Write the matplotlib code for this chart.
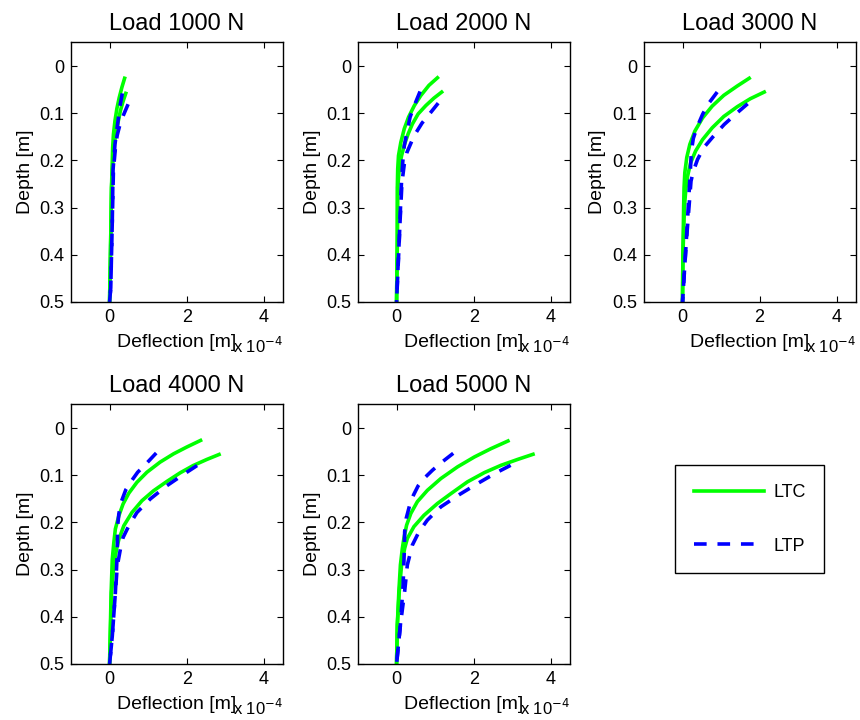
import matplotlib
matplotlib.use('Agg')
import matplotlib.pyplot as plt
from matplotlib.lines import Line2D

plt.rcParams['font.family'] = ['Liberation Sans', 'DejaVu Sans']

# Loads (N) and curves; deflection in units of 1e-4 m
loads = [1000, 2000, 3000, 4000, 5000]

ltc_upper_d = [
    [0.026, 0.045, 0.067, 0.09, 0.116, 0.145, 0.173, 0.258, 0.365, 0.5],
    [0.025, 0.041, 0.0625, 0.084, 0.1085, 0.133, 0.162, 0.19, 0.218, 0.257, 0.37, 0.5],
    [0.026, 0.0424, 0.0622, 0.085, 0.11, 0.138, 0.166, 0.194, 0.226, 0.258, 0.297, 0.403, 0.5],
    [0.0263, 0.0404, 0.0547, 0.0723, 0.0936, 0.115, 0.138, 0.161, 0.186, 0.214, 0.243, 0.278, 0.349, 0.5],
    [0.0275, 0.0437, 0.0613, 0.0824, 0.107, 0.132, 0.156, 0.181, 0.206, 0.234, 0.255, 0.29, 0.346, 0.417, 0.5],
]
ltc_upper_x = [
    [0.39, 0.32, 0.25, 0.19, 0.14, 0.10, 0.08, 0.05, 0.03, 0.0],
    [1.06, 0.84, 0.63, 0.46, 0.31, 0.20, 0.11, 0.05, 0.03, 0.02, 0.02, 0.0],
    [1.73, 1.42, 1.07, 0.77, 0.52, 0.32, 0.19, 0.11, 0.06, 0.04, 0.03, 0.01, 0.0],
    [2.36, 2.0, 1.66, 1.31, 0.97, 0.71, 0.50, 0.35, 0.24, 0.15, 0.11, 0.07, 0.04, 0.0],
    [2.89, 2.45, 2.02, 1.58, 1.15, 0.80, 0.54, 0.37, 0.26, 0.19, 0.15, 0.10, 0.06, 0.02, 0.0],
]
ltc_lower_d = [
    [0.058, 0.075, 0.095, 0.115, 0.138, 0.16, 0.18, 0.258, 0.365, 0.5],
    [0.0553, 0.068, 0.0838, 0.1015, 0.123, 0.144, 0.165, 0.19, 0.218, 0.257, 0.37, 0.5],
    [0.0552, 0.0693, 0.0863, 0.107, 0.131, 0.156, 0.18, 0.205, 0.234, 0.258, 0.297, 0.403, 0.5],
    [0.0561, 0.0667, 0.0795, 0.095, 0.113, 0.133, 0.154, 0.179, 0.207, 0.236, 0.257, 0.29, 0.349, 0.5],
    [0.0557, 0.0663, 0.079, 0.0944, 0.114, 0.139, 0.16, 0.185, 0.209, 0.234, 0.255, 0.29, 0.346, 0.417, 0.5],
]
ltc_lower_x = [
    [0.42, 0.35, 0.28, 0.23, 0.18, 0.13, 0.10, 0.05, 0.03, 0.0],
    [1.17, 0.97, 0.76, 0.56, 0.41, 0.30, 0.21, 0.13, 0.07, 0.03, 0.02, 0.0],
    [2.12, 1.76, 1.42, 1.07, 0.77, 0.52, 0.34, 0.21, 0.13, 0.09, 0.05, 0.01, 0.0],
    [2.84, 2.52, 2.17, 1.83, 1.49, 1.14, 0.84, 0.58, 0.37, 0.24, 0.18, 0.11, 0.05, 0.0],
    [3.54, 3.15, 2.71, 2.28, 1.84, 1.41, 1.06, 0.71, 0.45, 0.28, 0.21, 0.13, 0.07, 0.02, 0.0],
]
ltp_upper_d = [
    [0.058, 0.085, 0.116, 0.14, 0.166, 0.22, 0.33, 0.47, 0.5],
    [0.054, 0.0838, 0.1085, 0.14, 0.169, 0.204, 0.243, 0.26, 0.37, 0.5],
    [0.0552, 0.0813, 0.1026, 0.131, 0.1535, 0.18, 0.212, 0.24, 0.297, 0.382, 0.5],
    [0.053, 0.0774, 0.0936, 0.113, 0.131, 0.157, 0.182, 0.207, 0.264, 0.349, 0.441, 0.5],
    [0.0536, 0.074, 0.0895, 0.107, 0.1225, 0.142, 0.1635, 0.1916, 0.22, 0.262, 0.332, 0.417, 0.5],
]
ltp_upper_x = [
    [0.33, 0.27, 0.22, 0.18, 0.14, 0.09, 0.07, 0.03, 0.0],
    [0.61, 0.46, 0.35, 0.27, 0.20, 0.16, 0.13, 0.12, 0.07, 0.0],
    [0.90, 0.66, 0.52, 0.37, 0.28, 0.23, 0.21, 0.19, 0.15, 0.09, 0.0],
    [1.21, 0.93, 0.73, 0.56, 0.42, 0.30, 0.24, 0.21, 0.20, 0.15, 0.07, 0.0],
    [1.47, 1.15, 0.93, 0.71, 0.56, 0.44, 0.34, 0.25, 0.21, 0.20, 0.17, 0.10, 0.0],
]
ltp_lower_d = [
    [0.081, 0.104, 0.127, 0.146, 0.166, 0.22, 0.33, 0.47, 0.5],
    [0.0787, 0.098, 0.121, 0.142, 0.16, 0.183, 0.208, 0.247, 0.33, 0.44, 0.5],
    [0.08, 0.099, 0.124, 0.15, 0.173, 0.198, 0.223, 0.244, 0.297, 0.382, 0.5],
    [0.0795, 0.0987, 0.122, 0.15, 0.179, 0.207, 0.232, 0.257, 0.292, 0.349, 0.441, 0.5],
    [0.079, 0.095, 0.1177, 0.141, 0.167, 0.195, 0.22, 0.248, 0.29, 0.346, 0.417, 0.5],
]
ltp_lower_x = [
    [0.48, 0.36, 0.26, 0.20, 0.16, 0.10, 0.07, 0.03, 0.0],
    [1.08, 0.89, 0.66, 0.50, 0.39, 0.27, 0.20, 0.14, 0.09, 0.03, 0.0],
    [1.69, 1.42, 1.08, 0.79, 0.55, 0.39, 0.28, 0.22, 0.17, 0.09, 0.0],
    [2.27, 1.91, 1.49, 1.06, 0.71, 0.50, 0.35, 0.28, 0.20, 0.15, 0.07, 0.0],
    [2.96, 2.58, 2.10, 1.63, 1.15, 0.80, 0.58, 0.41, 0.28, 0.21, 0.10, 0.0],
]

yticks = [0, 0.1, 0.2, 0.3, 0.4, 0.5]
ytick_labels = ['0', '0.1', '0.2', '0.3', '0.4', '0.5']
xticks = [0, 2, 4]

green = '#00ff00'
blue = '#0000ff'
dash = (3.5, 3.0)

fig = plt.figure(figsize=(8.6, 7.2), dpi=100)

# axes positions in figure coordinates (left, bottom, width, height)
lefts = [0.0826, 0.4163, 0.7488]
bottoms = [0.5806, 0.0778]
w, h = 0.2465, 0.3605

for i, load in enumerate(loads):
    r, c = divmod(i, 3)
    ax = fig.add_axes([lefts[c], bottoms[r], w, h])
    ax.plot(ltc_upper_x[i], ltc_upper_d[i], color=green, lw=2.6, solid_joinstyle='round')
    ax.plot(ltc_lower_x[i], ltc_lower_d[i], color=green, lw=2.6, solid_joinstyle='round')
    ax.plot(ltp_upper_x[i], ltp_upper_d[i], color=blue, lw=2.6, dashes=dash, dash_capstyle='butt')
    ax.plot(ltp_lower_x[i], ltp_lower_d[i], color=blue, lw=2.6, dashes=dash, dash_capstyle='butt')

    ax.set_xlim(-1, 4.5)
    ax.set_ylim(0.5, -0.05)
    ax.set_xticks(xticks)
    ax.set_xticklabels([str(t) for t in xticks])
    ax.set_yticks(yticks)
    ax.set_yticklabels(ytick_labels)
    ax.tick_params(direction='in', top=True, right=True, length=4, labelsize=13, pad=5)
    for s in ax.spines.values():
        s.set_linewidth(1.0)
    ax.set_title('Load %d N' % load, fontsize=17, pad=9)
    ax.set_xlabel('Deflection [m]', fontsize=14, labelpad=6)
    ax.set_ylabel('Depth [m]', fontsize=14, labelpad=4)
    ax.text(1.0, -0.17, 'x 10$^{-4}$', transform=ax.transAxes, ha='right', va='center', fontsize=12)

handles = [Line2D([], [], color=green, lw=2.6),
           Line2D([], [], color=blue, lw=2.6, dashes=dash, dash_capstyle='butt')]
leg = fig.legend(handles, ['LTC', 'LTP'], loc='center', bbox_to_anchor=(0.8715, 0.2785),
                 fontsize=13, handlelength=3.9, labelspacing=2.0, borderpad=1.05,
                 handletextpad=0.5, fancybox=False, framealpha=1, edgecolor='black')
leg.get_frame().set_linewidth(1.0)

fig.savefig('out.png', dpi=100)
